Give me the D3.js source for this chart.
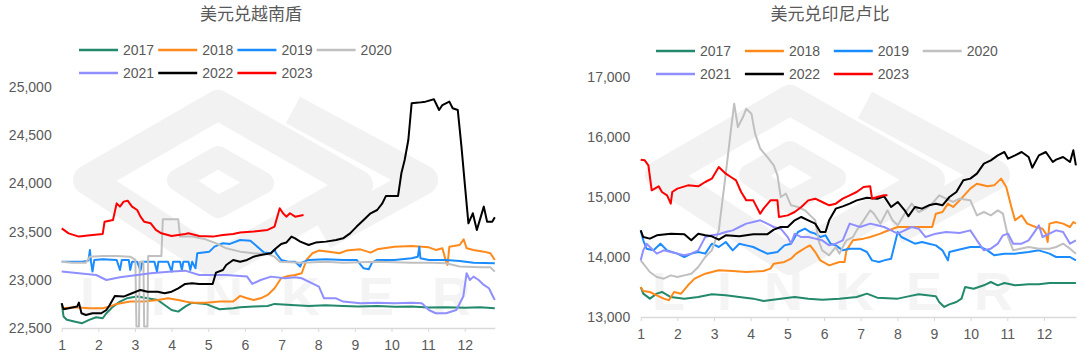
<!DOCTYPE html>
<html>
<head>
<meta charset="utf-8">
<script src="https://cdn.jsdelivr.net/npm/d3@7"></script>
<style>
  body { margin: 0; background: #fff; }
  svg { display: block; font-family: Arial, "Liberation Sans", "Noto Sans CJK SC", sans-serif; }
</style>
</head>
<body>
<svg id="chart" width="1080" height="363"></svg>
<script>
// ---- data ----
const years = ["2017", "2018", "2019", "2020", "2021", "2022", "2023"];
const yearColors = ["#23896b", "#ff8a1c", "#1a8cff", "#c0c0c0", "#8f8fff", "#000000", "#ff0000"];
const monthTicks = [1, 2, 3, 4, 5, 6, 7, 8, 9, 10, 11, 12];
const vndTicks = [22500, 23000, 23500, 24000, 24500, 25000];
const idrTicks = [13000, 14000, 15000, 16000, 17000];

// USD/VND, [month position, value]
const vnd2017 = [[1,22755],[1.05,22620],[1.14,22585],[1.37,22565],[1.56,22550],[1.75,22584],[1.94,22611],[2.12,22601],[2.22,22653],[2.4,22722],[2.59,22774],[2.78,22808],[3.06,22826],[3.34,22808],[3.62,22791],[3.81,22739],[4,22687],[4.18,22670],[4.37,22722],[4.56,22763],[4.93,22750],[5.12,22722],[5.31,22694],[5.68,22705],[5.87,22715],[6.24,22722],[6.62,22729],[6.81,22750],[7.27,22739],[7.74,22729],[8.2,22735],[8.68,22729],[9.1,22722],[9.61,22729],[10.1,22720],[10.55,22722],[11,22712],[11.49,22715],[12,22710],[12.42,22715],[12.82,22705]];
const vnd2018 = [[1,22705],[1.37,22715],[1.75,22705],[2.12,22705],[2.31,22722],[2.5,22750],[2.87,22774],[3.25,22774],[3.62,22791],[3.9,22808],[4.18,22791],[4.37,22774],[4.56,22763],[4.93,22763],[5.31,22774],[5.68,22774],[5.87,22833],[6.06,22808],[6.24,22791],[6.43,22808],[6.62,22843],[6.81,22912],[6.99,23016],[7.18,23040],[7.37,23050],[7.55,23068],[7.68,23206],[7.84,23275],[8.02,23303],[8.3,23292],[8.58,23275],[8.77,23303],[9.15,23316],[9.43,23282],[9.61,23316],[10.08,23344],[10.55,23351],[11.02,23337],[11.21,23310],[11.39,23327],[11.49,23188],[11.53,23154],[11.58,23344],[11.86,23361],[11.97,23420],[12.05,23327],[12.24,23310],[12.52,23292],[12.7,23275],[12.82,23206]];
const vnd2019 = [[1,23188],[1.56,23188],[1.73,23199],[1.77,23310],[1.8,23188],[1.84,23085],[1.89,23206],[2.12,23213],[2.5,23206],[2.59,23102],[2.64,23206],[2.83,23206],[2.87,23102],[2.92,23188],[3.06,23188],[3.15,23095],[3.2,23188],[3.53,23188],[3.6,23085],[3.64,23188],[3.9,23188],[4,23085],[4.04,23188],[4.23,23188],[4.28,23102],[4.32,23188],[4.46,23188],[4.51,23102],[4.56,23188],[4.65,23119],[4.7,23275],[5.03,23292],[5.17,23344],[5.4,23379],[5.59,23372],[5.87,23413],[6.15,23406],[6.34,23344],[6.52,23282],[6.71,23275],[6.81,23316],[6.85,23275],[6.99,23206],[7.18,23188],[7.37,23188],[7.51,23137],[7.55,23178],[7.74,23206],[8.21,23213],[8.68,23206],[9.05,23206],[9.24,23119],[9.38,23109],[9.47,23178],[9.61,23206],[10.08,23206],[10.55,23223],[10.72,23240],[10.76,23344],[10.79,23223],[11.02,23206],[11.49,23206],[11.86,23195],[12.24,23178],[12.82,23171]];
const vnd2020 = [[1,23188],[1.28,23178],[1.66,23178],[1.77,23240],[2.12,23247],[2.5,23247],[2.87,23240],[3.01,23206],[3.04,22515],[3.11,22515],[3.13,23188],[3.23,23188],[3.25,22515],[3.34,22515],[3.36,23247],[3.72,23247],[3.76,23628],[4.18,23628],[4.23,23448],[4.56,23448],[4.93,23420],[5.21,23379],[5.49,23327],[5.87,23292],[6.24,23275],[6.62,23268],[6.81,23240],[6.95,23188],[7.55,23178],[8.21,23188],[8.68,23178],[9.61,23188],[10.55,23178],[11.11,23178],[11.49,23171],[11.86,23137],[12.42,23130],[12.7,23130],[12.82,23085]];
const vnd2021 = [[1,23085],[1.47,23068],[1.94,23050],[2.22,22998],[2.59,23026],[3.06,23050],[3.43,23068],[4,23085],[4.37,23095],[4.75,23050],[5.12,23050],[5.49,23050],[5.87,23040],[6.06,23033],[6.2,22957],[6.43,22998],[6.71,23033],[7.09,23016],[7.37,23026],[7.55,23016],[7.74,22981],[8.02,22929],[8.16,22808],[8.49,22808],[8.68,22774],[9.15,22756],[9.61,22763],[10.08,22756],[10.55,22763],[10.83,22756],[11.02,22687],[11.21,22653],[11.49,22653],[11.77,22687],[11.96,22826],[12.05,23068],[12.14,22998],[12.24,23033],[12.38,22998],[12.52,22947],[12.66,22912],[12.75,22843],[12.82,22791]];
const vnd2022 = [[1,22757],[1.05,22694],[1.19,22705],[1.42,22722],[1.47,22763],[1.54,22653],[1.66,22635],[1.84,22653],[2.08,22653],[2.22,22687],[2.31,22739],[2.45,22832],[2.69,22826],[2.92,22860],[3.15,22895],[3.34,22877],[3.62,22877],[3.81,22860],[4,22877],[4.18,22912],[4.37,22957],[4.56,22964],[4.75,22957],[4.98,22957],[5.12,22957],[5.21,23074],[5.4,23102],[5.49,23154],[5.68,23206],[5.87,23188],[6.06,23206],[6.24,23240],[6.43,23258],[6.71,23275],[6.85,23327],[6.99,23372],[7.13,23386],[7.27,23448],[7.37,23430],[7.51,23396],[7.74,23361],[7.93,23386],[8.21,23396],[8.49,23413],[8.68,23430],[8.87,23482],[9.05,23552],[9.24,23621],[9.43,23690],[9.61,23724],[9.75,23793],[9.85,23870],[10.18,23870],[10.27,24105],[10.36,24243],[10.46,24450],[10.55,24831],[10.74,24838],[10.93,24848],[11.16,24872],[11.3,24761],[11.39,24813],[11.58,24848],[11.67,24779],[11.81,24761],[11.91,24381],[12,24001],[12.1,23586],[12.22,23690],[12.33,23517],[12.52,23759],[12.61,23603],[12.75,23603],[12.82,23648]];
const vnd2023 = [[1,23534],[1.19,23482],[1.47,23448],[1.84,23465],[2.12,23476],[2.17,23603],[2.4,23621],[2.5,23793],[2.59,23759],[2.69,23811],[2.8,23821],[2.92,23759],[3.06,23724],[3.15,23655],[3.25,23603],[3.43,23586],[3.57,23517],[3.72,23482],[4,23455],[4.37,23476],[4.46,23482],[4.75,23455],[5.12,23448],[5.4,23465],[5.68,23476],[5.87,23490],[6.24,23500],[6.62,23517],[6.81,23552],[6.95,23742],[7.04,23690],[7.13,23655],[7.23,23690],[7.37,23655],[7.6,23673]];

// USD/IDR, [month position, value]
const idr2017 = [[1,13500],[1.07,13389],[1.25,13306],[1.44,13389],[1.58,13417],[1.82,13333],[2.19,13306],[2.57,13333],[2.94,13378],[3.32,13361],[3.69,13333],[4.07,13306],[4.35,13267],[4.82,13306],[5.2,13333],[5.57,13306],[5.95,13289],[6.42,13306],[6.89,13333],[7.17,13389],[7.45,13322],[8.01,13306],[8.3,13344],[8.58,13378],[9.05,13344],[9.14,13250],[9.28,13167],[9.42,13211],[9.61,13250],[9.75,13306],[9.85,13500],[10.08,13472],[10.36,13528],[10.55,13583],[10.74,13528],[10.92,13567],[11.21,13528],[11.58,13544],[11.86,13544],[12.15,13567],[12.52,13567],[12.87,13567]];
const idr2018 = [[1,13500],[1.07,13433],[1.25,13417],[1.44,13361],[1.63,13306],[1.77,13278],[1.91,13417],[2.1,13389],[2.29,13528],[2.47,13639],[2.76,13722],[3.13,13778],[3.51,13767],[3.88,13750],[4.35,13767],[4.54,13806],[4.63,13889],[4.92,13917],[5.1,13972],[5.24,14056],[5.38,14111],[5.53,14167],[5.62,14194],[5.76,14083],[5.9,13944],[6.14,13861],[6.42,13917],[6.56,13917],[6.61,14111],[6.79,14278],[7.08,14306],[7.26,14333],[7.54,14389],[7.64,14417],[8.01,14500],[8.58,14500],[8.95,14500],[9.05,14722],[9.23,14750],[9.38,14889],[9.52,14833],[9.7,14944],[9.99,15139],[10.17,15222],[10.46,15178],[10.64,15194],[10.83,15306],[10.97,15167],[11.11,14833],[11.21,14611],[11.39,14694],[11.54,14556],[11.77,14500],[11.96,14472],[12.05,14389],[12.1,14250],[12.15,14556],[12.33,14583],[12.52,14556],[12.71,14500],[12.8,14583],[12.87,14556]];
const idr2019 = [[1,14444],[1.07,14278],[1.16,14139],[1.35,14111],[1.54,14222],[1.72,14111],[2,14056],[2.19,14000],[2.38,14056],[2.57,14083],[2.76,14056],[2.94,14222],[3.13,14167],[3.32,14250],[3.51,14111],[3.69,14222],[3.88,14194],[4.07,14167],[4.26,14111],[4.45,14056],[4.73,14083],[4.92,14194],[5.1,14222],[5.29,14417],[5.48,14472],[5.62,14417],[5.76,14389],[5.9,14333],[6.04,14361],[6.18,14222],[6.32,14194],[6.51,14111],[6.7,14139],[6.98,14139],[7.17,14083],[7.31,13944],[7.5,13917],[7.64,13944],[7.83,13972],[8.01,14417],[8.11,14333],[8.3,14278],[8.48,14222],[8.67,14250],[8.86,14222],[9.05,14194],[9.23,14111],[9.38,13944],[9.42,14083],[9.61,14111],[9.99,14167],[10.27,14167],[10.46,14111],[10.64,14028],[10.92,14056],[11.21,14056],[11.58,14083],[11.86,14111],[12.15,14056],[12.33,14000],[12.71,14000],[12.87,13944]];
const idr2020 = [[1,13944],[1.07,13889],[1.25,13750],[1.44,13667],[1.63,13639],[1.82,13694],[2,13667],[2.19,13694],[2.38,13722],[2.57,13833],[2.76,14000],[2.94,14111],[3.13,14444],[3.32,15389],[3.46,16111],[3.55,16556],[3.65,16167],[3.79,16333],[3.88,16472],[4.02,16389],[4.12,16056],[4.26,15806],[4.45,15667],[4.63,15528],[4.73,15361],[4.82,15000],[4.96,15056],[5.1,14861],[5.29,14833],[5.48,14778],[5.62,14694],[5.76,14611],[5.85,14278],[5.95,14111],[6.14,14028],[6.32,14167],[6.42,14056],[6.61,14278],[6.79,14333],[6.89,14444],[7.08,14611],[7.26,14778],[7.36,14722],[7.54,14556],[7.73,14778],[7.87,14611],[8.01,14528],[8.2,14722],[8.39,14889],[8.58,14750],[8.77,14806],[8.95,14889],[9.14,15028],[9.33,14972],[9.52,14917],[9.7,14972],[9.99,14944],[10.17,14694],[10.36,14750],[10.55,14694],[10.74,14778],[10.88,14722],[11.02,14333],[11.16,14111],[11.35,14139],[11.58,14167],[11.86,14139],[12.15,14139],[12.33,14167],[12.52,14222],[12.71,14139],[12.87,14056]];
const idr2021 = [[1,13944],[1.07,14111],[1.16,14222],[1.3,14139],[1.44,14056],[1.63,14111],[1.82,14083],[2,14056],[2.19,14028],[2.38,14056],[2.57,14111],[2.76,14333],[2.94,14361],[3.13,14378],[3.32,14417],[3.51,14444],[3.69,14500],[3.88,14556],[4.07,14583],[4.26,14611],[4.45,14556],[4.63,14500],[4.82,14472],[5.01,14333],[5.1,14222],[5.2,14389],[5.38,14333],[5.57,14333],[5.76,14306],[5.95,14278],[6.14,14194],[6.32,14222],[6.51,14278],[6.7,14556],[6.98,14500],[7.26,14556],[7.45,14528],[7.64,14500],[7.83,14444],[8.01,14389],[8.2,14444],[8.39,14500],[8.58,14472],[8.77,14333],[9.05,14389],[9.33,14417],[9.7,14400],[9.99,14444],[10.17,14278],[10.36,14111],[10.55,14139],[10.74,14222],[10.88,14361],[11.02,14389],[11.16,14222],[11.39,14222],[11.58,14278],[11.77,14444],[11.86,14528],[11.96,14333],[12.15,14389],[12.33,14444],[12.52,14417],[12.71,14222],[12.87,14278]];
const idr2022 = [[1,14444],[1.07,14333],[1.25,14306],[1.44,14361],[1.82,14389],[2.19,14378],[2.38,14278],[2.57,14389],[2.76,14361],[2.94,14344],[3.13,14289],[3.32,14361],[3.69,14344],[4.07,14378],[4.45,14378],[4.63,14456],[4.82,14500],[5.01,14500],[5.2,14611],[5.38,14667],[5.57,14611],[5.76,14556],[5.9,14417],[6.04,14417],[6.14,14611],[6.32,14806],[6.51,14844],[6.7,14889],[6.89,14944],[7.17,14989],[7.45,14972],[7.64,15011],[7.83,14833],[8.01,14917],[8.2,14778],[8.3,14678],[8.48,14833],[8.67,14806],[8.86,14861],[9.05,14889],[9.23,14861],[9.42,15000],[9.61,15083],[9.8,15278],[9.99,15306],[10.17,15389],[10.36,15556],[10.55,15611],[10.74,15694],[10.92,15750],[11.02,15639],[11.21,15694],[11.39,15750],[11.58,15667],[11.68,15489],[11.86,15694],[12.05,15750],[12.24,15583],[12.33,15622],[12.52,15667],[12.71,15583],[12.8,15778],[12.87,15528]];
const idr2023 = [[1,15622],[1.11,15611],[1.21,15528],[1.3,15111],[1.49,15178],[1.58,15083],[1.72,15028],[1.82,14889],[1.86,15083],[2,15139],[2.29,15194],[2.57,15178],[2.76,15250],[2.94,15306],[3.13,15500],[3.32,15389],[3.46,15333],[3.6,15278],[3.74,15083],[3.88,14944],[4.07,14944],[4.26,14722],[4.35,14806],[4.54,14944],[4.73,14944],[4.77,14667],[5.01,14694],[5.2,14750],[5.38,14833],[5.57,14944],[5.76,14972],[5.95,14917],[6.14,14861],[6.32,14889],[6.51,14972],[6.7,15028],[6.89,15083],[7.08,15167],[7.26,15178],[7.31,14972],[7.45,15000],[7.64,15028],[7.73,15028]];

const vndSeries = [vnd2017, vnd2018, vnd2019, vnd2020, vnd2021, vnd2022, vnd2023];
const idrSeries = [idr2017, idr2018, idr2019, idr2020, idr2021, idr2022, idr2023];

const svg = d3.select("#chart");
const textColor = "#595959";

function drawWatermark(g, ox, oy, spacing) {
    // faint company logo behind the plot
    let wm = g.append("g").attr("transform", `translate(${ox},${oy})`)
        .attr("fill", "none").attr("stroke", "#f2f2f2").attr("stroke-linejoin", "round");
    wm.append("path").attr("stroke-width", 30)
        .attr("d", "M20,95 L150,20 L290,100 L150,180 Z");
    wm.append("path").attr("stroke-width", 30)
        .attr("d", "M225,25 L355,95 L255,150");
    wm.append("path").attr("stroke-width", 22)
        .attr("d", "M110,95 L150,72 L195,98 L150,122 Z");
    wm.append("text").attr("x", 12).attr("y", 230).attr("stroke", "none").attr("fill", "#f4f4f4")
        .style("font-size", "54px").style("font-weight", "bold").style("letter-spacing", spacing + "px")
        .text("LINKER");
}

function drawChart(cfg) {
    let g = svg.append("g");

    drawWatermark(g, cfg.wmX, cfg.wmY, cfg.wmSpacing);

    let x = d3.scaleLinear().domain(cfg.xDomain).range(cfg.xRange);
    let y = d3.scaleLinear().domain(cfg.yDomain).range(cfg.yRange);

    // title
    g.append("text")
        .attr("x", cfg.titleX).attr("y", 20)
        .style("text-anchor", "middle")
        .style("font-size", "17px")
        .style("fill", textColor)
        .text(cfg.title);

    // y axis labels only
    let yAxis = g.append("g")
        .attr("transform", `translate(${cfg.xRange[0]},0)`)
        .call(d3.axisLeft(y).tickValues(cfg.yTicks).tickSize(0).tickPadding(cfg.yPad).tickFormat(d3.format(",")));
    yAxis.select(".domain").remove();
    yAxis.selectAll("text").style("font-size", "14px").style("fill", textColor);

    // x axis
    let xAxis = g.append("g")
        .attr("transform", `translate(0,${cfg.yRange[0]})`)
        .call(d3.axisBottom(x).tickValues(monthTicks).tickSize(4).tickPadding(8).tickSizeOuter(0));
    xAxis.select(".domain").attr("stroke", "#d9d9d9").attr("stroke-width", 1.5);
    xAxis.selectAll(".tick line").attr("stroke", "#d9d9d9");
    xAxis.selectAll("text").style("font-size", "14px").style("fill", textColor);

    // lines
    let line = d3.line().x(d => x(d[0])).y(d => y(d[1]));
    cfg.series.forEach(function(s, i) {
        g.append("path")
            .datum(s)
            .attr("fill", "none")
            .attr("stroke", yearColors[i])
            .attr("stroke-width", 2)
            .attr("stroke-linejoin", "round")
            .attr("d", line);
    });

    // legend, 4 per row
    years.forEach(function(yr, i) {
        let lx = cfg.legendX + (i % 4) * cfg.legendStep;
        let ly = cfg.legendY + Math.floor(i / 4) * 23;
        g.append("line")
            .attr("x1", lx).attr("x2", lx + 39)
            .attr("y1", ly).attr("y2", ly)
            .attr("stroke", yearColors[i])
            .attr("stroke-width", 2.5);
        g.append("text")
            .attr("x", lx + 44).attr("y", ly + 5)
            .style("font-size", "14px")
            .style("fill", textColor)
            .text(yr);
    });
}

drawChart({
    title: "美元兑越南盾", titleX: 251,
    series: vndSeries,
    xDomain: [1, 12.82], xRange: [61.7, 494.8],
    yDomain: [22500, 25000], yRange: [328, 87],
    yTicks: vndTicks, yPad: 10,
    legendX: 79, legendStep: 79.2, legendY: 50,
    wmX: 68, wmY: 85, wmSpacing: 38
});

drawChart({
    title: "美元兑印尼卢比", titleX: 830,
    series: idrSeries,
    xDomain: [1, 12.87], xRange: [640.7, 1075.9],
    yDomain: [13000, 17000], yRange: [317, 77],
    yTicks: idrTicks, yPad: 10.5,
    legendX: 656, legendStep: 88.9, legendY: 51,
    wmX: 640, wmY: 80, wmSpacing: 32
});
</script>
</body>
</html>
